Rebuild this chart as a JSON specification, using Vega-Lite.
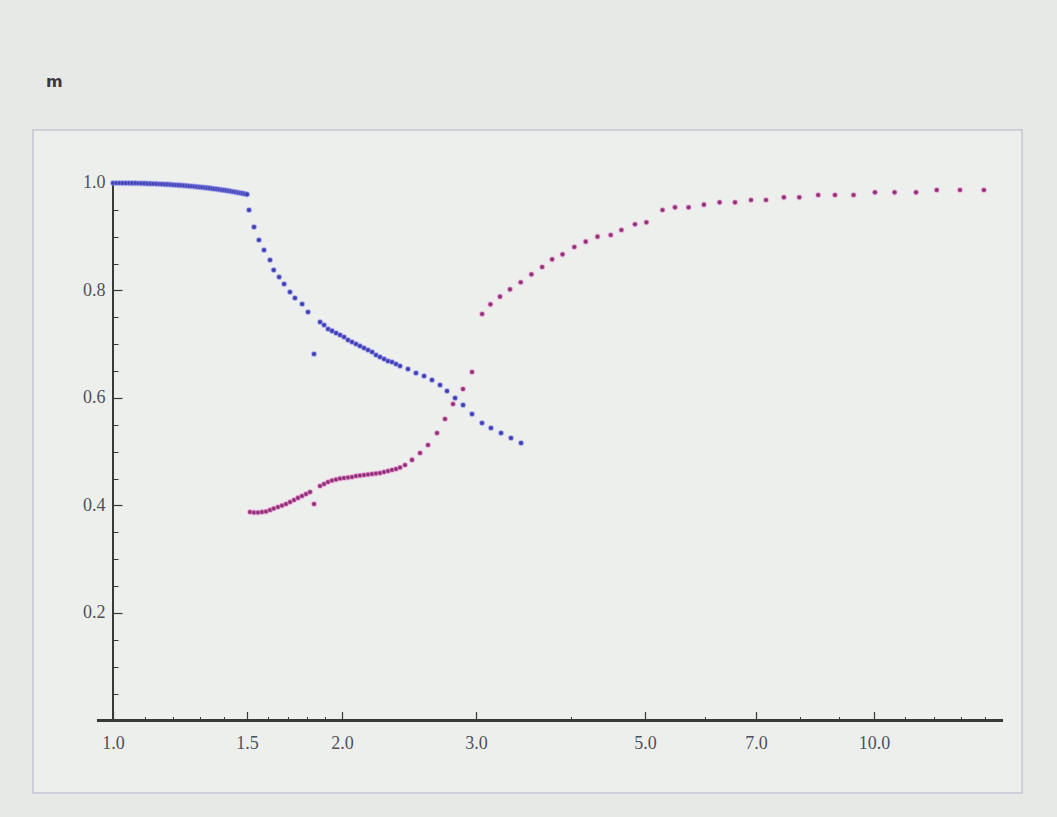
{
  "$schema": "https://vega.github.io/schema/vega-lite/v6.json",
  "width": 989,
  "height": 663,
  "autosize": "none",
  "padding": {"left": 33, "top": 130, "right": 35, "bottom": 24},
  "background": "#e7e9e6",
  "title": {"text": "m", "anchor": "start", "offset": 40, "dx": 13, "font": "DejaVu Sans", "fontSize": 16, "fontWeight": "bold", "color": "#3a3a44"},
  "config": {"view": {"fill": "#edefec", "stroke": "#c3c5d3", "strokeWidth": 1.5}},
  "data": {"values": [
    {"x":1.00,"y":1.0,"s":"b"},{"x":1.01,"y":1.0,"s":"b"},{"x":1.02,"y":1.0,"s":"b"},{"x":1.03,"y":0.9999,"s":"b"},{"x":1.04,"y":0.9999,"s":"b"},{"x":1.05,"y":0.9998,"s":"b"},{"x":1.06,"y":0.9997,"s":"b"},{"x":1.07,"y":0.9996,"s":"b"},{"x":1.08,"y":0.9995,"s":"b"},{"x":1.09,"y":0.9993,"s":"b"},{"x":1.10,"y":0.9992,"s":"b"},{"x":1.11,"y":0.999,"s":"b"},{"x":1.12,"y":0.9988,"s":"b"},{"x":1.13,"y":0.9986,"s":"b"},{"x":1.14,"y":0.9984,"s":"b"},{"x":1.15,"y":0.9981,"s":"b"},{"x":1.16,"y":0.9978,"s":"b"},{"x":1.17,"y":0.9976,"s":"b"},{"x":1.18,"y":0.9973,"s":"b"},{"x":1.19,"y":0.997,"s":"b"},{"x":1.20,"y":0.9966,"s":"b"},{"x":1.21,"y":0.9963,"s":"b"},{"x":1.22,"y":0.9959,"s":"b"},{"x":1.23,"y":0.9956,"s":"b"},{"x":1.24,"y":0.9952,"s":"b"},{"x":1.25,"y":0.9948,"s":"b"},{"x":1.26,"y":0.9943,"s":"b"},{"x":1.27,"y":0.9939,"s":"b"},{"x":1.28,"y":0.9934,"s":"b"},{"x":1.29,"y":0.9929,"s":"b"},{"x":1.30,"y":0.9924,"s":"b"},{"x":1.31,"y":0.9919,"s":"b"},{"x":1.32,"y":0.9914,"s":"b"},{"x":1.33,"y":0.9909,"s":"b"},{"x":1.34,"y":0.9903,"s":"b"},{"x":1.35,"y":0.9897,"s":"b"},{"x":1.36,"y":0.9891,"s":"b"},{"x":1.37,"y":0.9885,"s":"b"},{"x":1.38,"y":0.9879,"s":"b"},{"x":1.39,"y":0.9872,"s":"b"},{"x":1.40,"y":0.9866,"s":"b"},{"x":1.41,"y":0.9859,"s":"b"},{"x":1.42,"y":0.9852,"s":"b"},{"x":1.43,"y":0.9845,"s":"b"},{"x":1.44,"y":0.9837,"s":"b"},{"x":1.45,"y":0.983,"s":"b"},{"x":1.46,"y":0.9822,"s":"b"},{"x":1.47,"y":0.9814,"s":"b"},{"x":1.48,"y":0.9806,"s":"b"},{"x":1.49,"y":0.9798,"s":"b"},{"x":1.50,"y":0.979,"s":"b"},
    {"x":1.509,"y":0.9498,"s":"b"},{"x":1.532,"y":0.9181,"s":"b"},{"x":1.555,"y":0.894,"s":"b"},{"x":1.579,"y":0.8753,"s":"b"},{"x":1.608,"y":0.8567,"s":"b"},{"x":1.626,"y":0.8381,"s":"b"},{"x":1.653,"y":0.8251,"s":"b"},{"x":1.678,"y":0.8121,"s":"b"},{"x":1.708,"y":0.7972,"s":"b"},{"x":1.734,"y":0.786,"s":"b"},{"x":1.772,"y":0.7749,"s":"b"},{"x":1.804,"y":0.76,"s":"b"},{"x":1.837,"y":0.6819,"s":"b"},
    {"x":1.871,"y":0.7414,"s":"b"},{"x":1.894,"y":0.7358,"s":"b"},{"x":1.917,"y":0.7284,"s":"b"},{"x":1.940,"y":0.7247,"s":"b"},{"x":1.964,"y":0.7209,"s":"b"},{"x":1.988,"y":0.7172,"s":"b"},{"x":2.012,"y":0.7135,"s":"b"},{"x":2.036,"y":0.7079,"s":"b"},{"x":2.061,"y":0.7042,"s":"b"},{"x":2.086,"y":0.7005,"s":"b"},{"x":2.111,"y":0.6967,"s":"b"},{"x":2.137,"y":0.693,"s":"b"},{"x":2.163,"y":0.6893,"s":"b"},{"x":2.190,"y":0.6856,"s":"b"},{"x":2.216,"y":0.68,"s":"b"},{"x":2.243,"y":0.6763,"s":"b"},{"x":2.271,"y":0.6726,"s":"b"},{"x":2.298,"y":0.6688,"s":"b"},{"x":2.326,"y":0.667,"s":"b"},{"x":2.354,"y":0.6633,"s":"b"},{"x":2.383,"y":0.6595,"s":"b"},{"x":2.441,"y":0.654,"s":"b"},{"x":2.501,"y":0.6465,"s":"b"},{"x":2.563,"y":0.6409,"s":"b"},{"x":2.625,"y":0.6335,"s":"b"},{"x":2.690,"y":0.6242,"s":"b"},{"x":2.747,"y":0.613,"s":"b"},{"x":2.815,"y":0.6,"s":"b"},{"x":2.884,"y":0.587,"s":"b"},{"x":2.963,"y":0.5702,"s":"b"},{"x":3.054,"y":0.5535,"s":"b"},{"x":3.138,"y":0.5442,"s":"b"},{"x":3.235,"y":0.5349,"s":"b"},{"x":3.334,"y":0.5256,"s":"b"},{"x":3.437,"y":0.5163,"s":"b"},
    {"x":1.5137,"y":0.3879,"s":"m"},{"x":1.5321,"y":0.387,"s":"m"},{"x":1.5507,"y":0.387,"s":"m"},{"x":1.5697,"y":0.3879,"s":"m"},{"x":1.5887,"y":0.3888,"s":"m"},{"x":1.6081,"y":0.3916,"s":"m"},{"x":1.6262,"y":0.3944,"s":"m"},{"x":1.6475,"y":0.3972,"s":"m"},{"x":1.6676,"y":0.4,"s":"m"},{"x":1.6878,"y":0.4028,"s":"m"},{"x":1.7084,"y":0.4065,"s":"m"},{"x":1.7292,"y":0.4102,"s":"m"},{"x":1.7502,"y":0.414,"s":"m"},{"x":1.7716,"y":0.4177,"s":"m"},{"x":1.7932,"y":0.4214,"s":"m"},{"x":1.815,"y":0.4251,"s":"m"},{"x":1.8371,"y":0.4028,"s":"m"},
    {"x":1.8707,"y":0.4363,"s":"m"},{"x":1.8936,"y":0.44,"s":"m"},{"x":1.9166,"y":0.4437,"s":"m"},{"x":1.9399,"y":0.4465,"s":"m"},{"x":1.9635,"y":0.4484,"s":"m"},{"x":1.9875,"y":0.4502,"s":"m"},{"x":2.0117,"y":0.4512,"s":"m"},{"x":2.0361,"y":0.4521,"s":"m"},{"x":2.0609,"y":0.453,"s":"m"},{"x":2.086,"y":0.4549,"s":"m"},{"x":2.1114,"y":0.4558,"s":"m"},{"x":2.1372,"y":0.4567,"s":"m"},{"x":2.1632,"y":0.4577,"s":"m"},{"x":2.1895,"y":0.4586,"s":"m"},{"x":2.2161,"y":0.4595,"s":"m"},{"x":2.2431,"y":0.4605,"s":"m"},{"x":2.2705,"y":0.4623,"s":"m"},{"x":2.2981,"y":0.4642,"s":"m"},{"x":2.326,"y":0.466,"s":"m"},{"x":2.3544,"y":0.4679,"s":"m"},{"x":2.3831,"y":0.4707,"s":"m"},{"x":2.4194,"y":0.4753,"s":"m"},{"x":2.4711,"y":0.4847,"s":"m"},{"x":2.5318,"y":0.4977,"s":"m"},{"x":2.5938,"y":0.5126,"s":"m"},{"x":2.6653,"y":0.5349,"s":"m"},{"x":2.7307,"y":0.5609,"s":"m"},{"x":2.7976,"y":0.5888,"s":"m"},{"x":2.8835,"y":0.6167,"s":"m"},{"x":2.9631,"y":0.6484,"s":"m"},
    {"x":3.0551,"y":0.7563,"s":"m"},{"x":3.1328,"y":0.7743,"s":"m"},{"x":3.225,"y":0.7885,"s":"m"},{"x":3.3241,"y":0.8022,"s":"m"},{"x":3.4335,"y":0.8153,"s":"m"},{"x":3.5465,"y":0.8301,"s":"m"},{"x":3.6632,"y":0.8437,"s":"m"},{"x":3.7758,"y":0.858,"s":"m"},{"x":3.8965,"y":0.8673,"s":"m"},{"x":4.0381,"y":0.8809,"s":"m"},{"x":4.1798,"y":0.8908,"s":"m"},{"x":4.3317,"y":0.9001,"s":"m"},{"x":4.5083,"y":0.9033,"s":"m"},{"x":4.6567,"y":0.9126,"s":"m"},{"x":4.8522,"y":0.9232,"s":"m"},{"x":5.0225,"y":0.9269,"s":"m"},{"x":5.2733,"y":0.9498,"s":"m"},{"x":5.4764,"y":0.9548,"s":"m"},{"x":5.7065,"y":0.9548,"s":"m"},{"x":5.9769,"y":0.9596,"s":"m"},{"x":6.2678,"y":0.9641,"s":"m"},{"x":6.5667,"y":0.9641,"s":"m"},{"x":6.8924,"y":0.9684,"s":"m"},{"x":7.2125,"y":0.9684,"s":"m"},{"x":7.6138,"y":0.9734,"s":"m"},{"x":7.9771,"y":0.9734,"s":"m"},{"x":8.4465,"y":0.9777,"s":"m"},{"x":8.8868,"y":0.9777,"s":"m"},{"x":9.4013,"y":0.9777,"s":"m"},{"x":10.03,"y":0.9827,"s":"m"},{"x":10.643,"y":0.9827,"s":"m"},{"x":11.358,"y":0.9827,"s":"m"},{"x":12.09,"y":0.987,"s":"m"},{"x":12.972,"y":0.987,"s":"m"},{"x":13.946,"y":0.987,"s":"m"}
  ]},
  "layer": [
    {
      "mark": {"type": "rule", "color": "#3a3a3a", "strokeWidth": 1.6},
      "encoding": {
        "x": {"datum": 0.9528, "type": "quantitative", "scale": {"type": "log", "domain": [0.7849, 15.65], "nice": false},
              "axis": {"orient": "bottom", "offset": -72.5, "values": [1.1,1.2,1.3,1.4,1.6,1.7,1.8,1.9,4,6,8,9,11,12,13,14], "labels": false, "domain": false, "grid": false, "tickSize": -4, "tickColor": "#3a3a3a", "tickWidth": 1, "title": null}},
        "x2": {"datum": 14.77},
        "y": {"datum": 0, "type": "quantitative", "scale": {"domain": [-0.1349, 1.0986], "nice": false, "zero": false}, "axis": null}
      }
    },
    {
      "mark": {"type": "rule", "color": "#3a3a3a", "strokeWidth": 1.6},
      "encoding": {
        "x": {"datum": 1, "type": "quantitative", "axis": null},
        "y": {"datum": 0, "type": "quantitative",
              "axis": {"orient": "left", "offset": -80, "values": [0.05,0.1,0.15,0.25,0.3,0.35,0.45,0.5,0.55,0.65,0.7,0.75,0.85,0.9,0.95], "labels": false, "domain": false, "grid": false, "tickSize": -5, "tickColor": "#3a3a3a", "tickWidth": 1, "title": null}},
        "y2": {"datum": 1.0}
      }
    },
    {
      "mark": {"type": "point", "filled": true, "size": 22, "opacity": 1, "strokeWidth": 1.5, "strokeOpacity": 0.45},
      "encoding": {
        "x": {"field": "x", "type": "quantitative",
              "axis": {"orient": "bottom", "offset": -72.5, "values": [1,1.5,2,3,5,7,10], "format": ".1f", "domain": false, "grid": false, "tickSize": -9, "tickColor": "#3a3a3a", "tickWidth": 1.2, "labelPadding": 23, "labelFont": "Liberation Serif", "labelFontSize": 18, "labelColor": "#50505c", "labelOverlap": false, "labelFlush": false, "title": null}},
        "y": {"field": "y", "type": "quantitative",
              "axis": {"orient": "left", "offset": -80, "values": [0.2,0.4,0.6,0.8,1.0], "format": ".1f", "domain": false, "grid": false, "tickSize": -9, "tickColor": "#3a3a3a", "tickWidth": 1.2, "labelPadding": 17, "labelFont": "Liberation Serif", "labelFontSize": 18, "labelColor": "#50505c", "labelOverlap": false, "labelFlush": false, "title": null}},
        "color": {"field": "s", "type": "nominal", "scale": {"domain": ["b","m"], "range": ["#3c3cae","#8a3070"]}, "legend": null},
        "stroke": {"field": "s", "type": "nominal", "scale": {"domain": ["b","m"], "range": ["#8c8cf0","#f08ad8"]}, "legend": null}
      }
    }
  ],
  "resolve": {"axis": {"x": "independent", "y": "independent"}}
}
